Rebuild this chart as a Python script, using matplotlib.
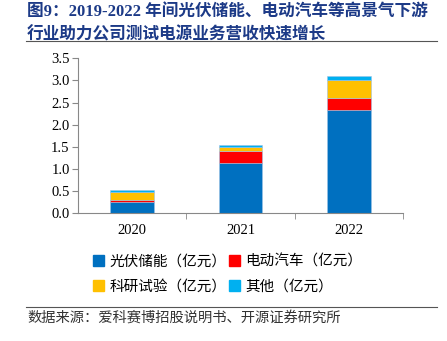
import matplotlib.pyplot as plt
from matplotlib.patches import Rectangle
from matplotlib.lines import Line2D

plt.rcParams['font.family'] = ['Liberation Serif', 'Noto Sans CJK SC', 'DejaVu Sans']

years = ["2020", "2021", "2022"]
pv_storage = [0.26, 1.14, 2.33]
ev = [0.05, 0.26, 0.28]
research = [0.18, 0.10, 0.41]
other = [0.04, 0.04, 0.07]

series = [
    ("光伏储能（亿元）", pv_storage, "#0070C0"),
    ("电动汽车（亿元）", ev, "#FF0000"),
    ("科研试验（亿元）", research, "#FFC000"),
    ("其他（亿元）", other, "#00B0F0"),
]

W, H = 447, 341
fig = plt.figure(figsize=(W / 100, H / 100), dpi=100, facecolor="white")

title_color = "#1C3A87"
fig.text(27 / W, 1 - 12 / H, "图9：2019-2022 年间光伏储能、电动汽车等高景气下游",
         fontsize=12, fontweight="bold", color=title_color, va="center", ha="left")
fig.text(27 / W, 1 - 35 / H, "行业助力公司测试电源业务营收快速增长",
         fontsize=12, fontweight="bold", color=title_color, va="center", ha="left")
fig.add_artist(Line2D([26 / W, 437 / W], [1 - 40.7 / H] * 2, color="#555555", lw=0.8))
fig.add_artist(Line2D([26 / W, 437 / W], [1 - 306.7 / H] * 2, color="#555555", lw=0.8))
fig.text(27 / W, 1 - 318 / H, "数据来源：爱科赛博招股说明书、开源证券研究所",
         fontsize=10.3, color="#333333", va="center", ha="left")

ax = fig.add_axes([78 / W, 1 - 213.3 / H, (403 - 78) / W, (213.3 - 58.3) / H])
x = range(len(years))
bottom = [0.0] * len(years)
handles = []
for label, vals, color in series:
    ax.bar(x, vals, width=0.4, bottom=bottom, color=color, edgecolor="#9DC3E6",
           linewidth=0.4, label=label)
    bottom = [b + v for b, v in zip(bottom, vals)]
    handles.append(Rectangle((0, 0), 1, 1, color=color))

ax.set_xlim(-0.5, 2.5)
ax.set_ylim(0, 3.5)
ax.set_yticks([0, 0.5, 1.0, 1.5, 2.0, 2.5, 3.0, 3.5])
ax.set_yticklabels([f"{v:.1f}" for v in ax.get_yticks()], fontsize=10.5)
ax.set_xticks(list(x))
ax.set_xticklabels(years, fontsize=10.5)
ax.set_xticks([0.5, 1.5, 2.5], minor=True)
ax.tick_params(axis="x", which="major", length=0, pad=8)
ax.tick_params(axis="x", which="minor", length=4, color="#888888")
ax.tick_params(axis="y", length=4, color="#888888", pad=2)
for s in ["top", "right"]:
    ax.spines[s].set_visible(False)
ax.spines["left"].set_color("#888888")
ax.spines["bottom"].set_color("#888888")

# legend fills column-wise; reorder so rows read pv, ev / research, other
labels = [s[0] for s in series]
order = [0, 2, 1, 3]
fig.legend([handles[i] for i in order], [labels[i] for i in order], ncol=2,
           loc="center", bbox_to_anchor=(0.51, 1 - 274 / H), frameon=False,
           handlelength=0.7, handleheight=0.7, handletextpad=0.4,
           columnspacing=0.2, labelspacing=0.75,
           prop={"family": ["Noto Sans CJK SC"], "size": 10.5})

fig.savefig("out.png", dpi=100, facecolor="white")
